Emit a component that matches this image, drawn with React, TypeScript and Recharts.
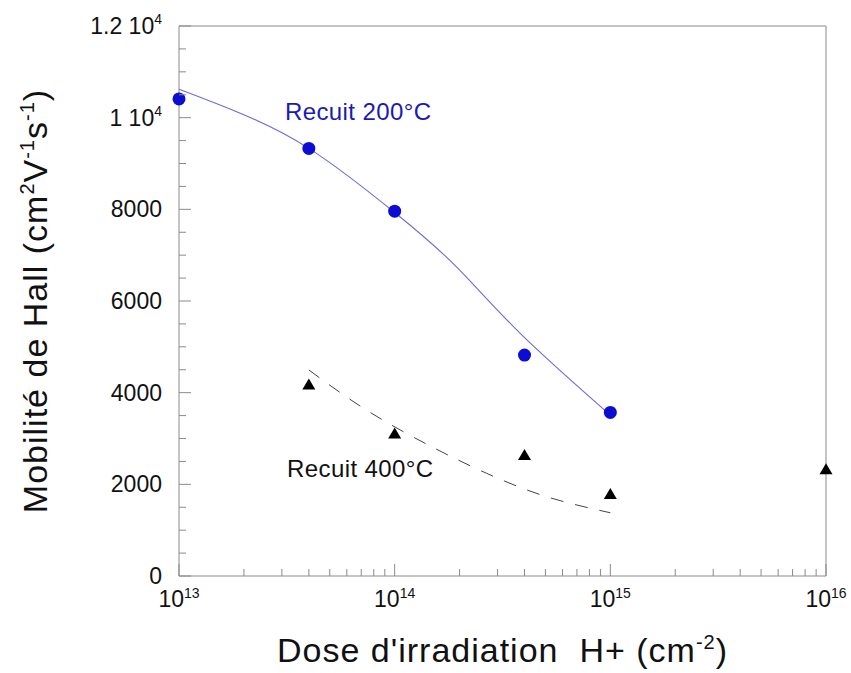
import { ComposedChart, Line, Scatter, XAxis, YAxis, ReferenceLine, ReferenceDot } from 'recharts'

const FONT = '"Liberation Sans", Arial, Helvetica, sans-serif'
const AXIS_GRAY = '#8a8a8a'
const BLUE = '#0c0cd2'

// recuit 200°C : mesures (cercles bleus)
const dose200 = [1e13, 4e13, 1e14, 4e14, 1e15]
const mob200 = [10410, 9330, 7960, 4820, 3570]
// recuit 400°C : mesures (triangles)
const dose400 = [4e13, 1e14, 4e14, 1e15, 1e16]
const mob400 = [4180, 3110, 2640, 1790, 2330]
// courbes tracées à la main sur la figure (relevées point par point)
const fitDose200 = [1e13, 1.85e13, 4e13, 1e14, 1.94e14, 3.81e14, 1e15]
const fitMob200 = [10620, 10130, 9330, 7930, 6740, 5300, 3510]
const fitDose400 = [4e13, 7.4e13, 1.43e14, 2.67e14, 5.07e14, 1e15]
const fitMob400 = [4495, 3620, 2860, 2240, 1730, 1380]

const xDecades = [13, 14, 15, 16]
const xMinor = [2, 3, 4, 5, 6, 7, 8, 9]
const yMajor = [0, 2000, 4000, 6000, 8000, 10000, 12000]
const yLabels: [string, string?][] = [['0'], ['2000'], ['4000'], ['6000'], ['8000'], ['1 10', '4'], ['1.2 10', '4']]
const yStep = 500

const zip = (d: number[], m: number[]) => d.map((dose, i) => ({ dose, mob: m[i] }))
const pts200 = zip(dose200, mob200)
const pts400 = zip(dose400, mob400)
const fit200 = zip(fitDose200, fitMob200)
const fit400 = zip(fitDose400, fitMob400)

const xTicks = xDecades.flatMap((e, i) =>
  i < xDecades.length - 1 ? [10 ** e, ...xMinor.map((m) => m * 10 ** e)] : [10 ** e]
)
const yTicks: number[] = []
for (let v = 0; v <= yMajor[yMajor.length - 1]; v += yStep) yTicks.push(v)

const isDecade = (v: number) => {
  const e = Math.log10(v)
  return Math.abs(e - Math.round(e)) < 1e-6
}

function XTick({ x, y, payload }: any) {
  const major = isDecade(payload.value)
  return (
    <g>
      <line x1={x} x2={x} y1={y} y2={y - (major ? 12 : 7)} stroke={AXIS_GRAY} />
      {major && (
        <text x={x} y={y + 31} textAnchor="middle" fontSize={23} fontFamily={FONT} fill="#111">
          10<tspan dy={-9} fontSize={14}>{Math.round(Math.log10(payload.value))}</tspan>
        </text>
      )}
    </g>
  )
}

function YTickLeft({ x, y, payload }: any) {
  const i = yMajor.indexOf(payload.value)
  const lbl = i >= 0 ? yLabels[i] : null
  return (
    <g>
      <line x1={x} x2={x + (lbl ? 12 : 7)} y1={y} y2={y} stroke={AXIS_GRAY} />
      {lbl && (
        <text x={x - 17} y={y} dy={8} textAnchor="end" fontSize={23} fontFamily={FONT} fill="#111">
          {lbl[0]}
          {lbl[1] && <tspan dy={-10} fontSize={14}>{lbl[1]}</tspan>}
        </text>
      )}
    </g>
  )
}

function YTickRight({ x, y, payload }: any) {
  const major = yMajor.includes(payload.value)
  return <line x1={x} x2={x - (major ? 12 : 7)} y1={y} y2={y} stroke={AXIS_GRAY} />
}

function XTitle({ viewBox }: any) {
  const cx = viewBox.x + viewBox.width / 2
  return (
    <text x={cx} y={viewBox.y + 86} textAnchor="middle" fontSize={34} letterSpacing={1}
      fontFamily={FONT} fill="#111" style={{ whiteSpace: 'pre' }}>
      {"Dose d'irradiation  H+ (cm"}<tspan dy={-13} fontSize={20}>-2</tspan><tspan dy={13}>)</tspan>
    </text>
  )
}

function YTitle({ viewBox }: any) {
  const cx = viewBox.x + viewBox.width - 132
  const cy = viewBox.y + viewBox.height / 2
  return (
    <text x={cx} y={cy} transform={`rotate(-90, ${cx}, ${cy})`} textAnchor="middle" fontSize={34}
      letterSpacing={1} fontFamily={FONT} fill="#111">
      Mobilité de Hall (cm<tspan dy={-13} fontSize={20}>2</tspan>
      <tspan dy={13}>V</tspan><tspan dy={-13} fontSize={20}>-1</tspan>
      <tspan dy={13}>s</tspan><tspan dy={-13} fontSize={20}>-1</tspan>
      <tspan dy={13}>)</tspan>
    </text>
  )
}

const Dot = ({ cx, cy }: any) => <circle cx={cx} cy={cy} r={6.5} fill={BLUE} />
const Tri = ({ cx, cy }: any) => (
  <polygon points={`${cx},${cy - 6} ${cx - 6.5},${cy + 5} ${cx + 6.5},${cy + 5}`} fill="#000" />
)

const note = (txt: string, color: string) => ({ cx, cy }: any) => (
  <text x={cx} y={cy} fontSize={24} letterSpacing={0.4} fontFamily={FONT} fill={color}>{txt}</text>
)

export default function App() {
  return (
    <div style={{ position: 'absolute', left: 0, top: 0, background: '#fff' }}>
      <ComposedChart width={851} height={673} margin={{ top: 26, right: 24, bottom: 96, left: 178 }}>
        <XAxis
          dataKey="dose"
          type="number"
          scale="log"
          domain={[1e13, 1e16]}
          ticks={xTicks}
          interval={0}
          height={1}
          tickSize={0}
          tickMargin={0}
          tickLine={false}
          axisLine={{ stroke: AXIS_GRAY }}
          tick={<XTick />}
          label={{ content: <XTitle /> }}
        />
        <YAxis
          type="number"
          domain={[0, 12000]}
          ticks={yTicks}
          interval={0}
          width={1}
          tickSize={0}
          tickMargin={0}
          tickLine={false}
          axisLine={{ stroke: AXIS_GRAY }}
          tick={<YTickLeft />}
          label={{ content: <YTitle /> }}
        />
        <YAxis
          yAxisId="right"
          orientation="right"
          type="number"
          domain={[0, 12000]}
          ticks={yTicks}
          interval={0}
          width={1}
          tickSize={0}
          tickMargin={0}
          tickLine={false}
          axisLine={{ stroke: AXIS_GRAY }}
          tick={<YTickRight />}
        />
        <ReferenceLine y={12000} stroke={AXIS_GRAY} />
        <Line data={fit200} dataKey="mob" type="natural" stroke="#6c6cd8" strokeWidth={1.1}
          dot={false} activeDot={false} isAnimationActive={false} />
        <Line data={fit400} dataKey="mob" type="natural" stroke="#444" strokeWidth={1}
          strokeDasharray="13 12" dot={false} activeDot={false} isAnimationActive={false} />
        <Scatter data={pts200} dataKey="mob" shape={<Dot />} isAnimationActive={false} />
        <Scatter data={pts400} dataKey="mob" shape={<Tri />} isAnimationActive={false} />
        <ReferenceDot x={3.1e13} y={9950} r={0} shape={note('Recuit 200°C', '#1a1ab5')} />
        <ReferenceDot x={3.17e13} y={2160} r={0} shape={note('Recuit 400°C', '#111')} />
      </ComposedChart>
    </div>
  )
}
